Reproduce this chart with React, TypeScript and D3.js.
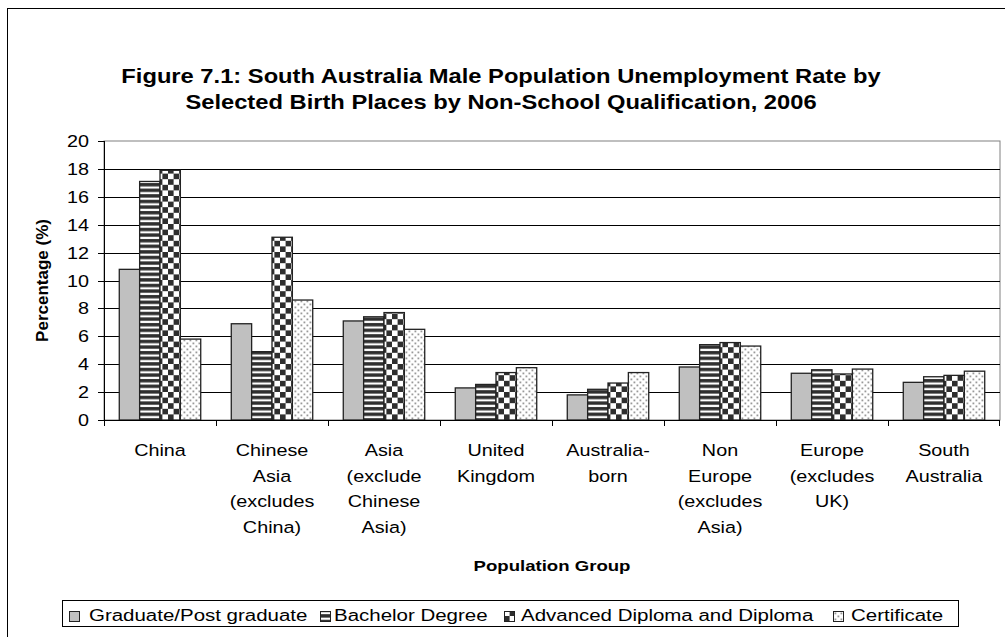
import React from "react";
import * as d3 from "d3";

const categories = [
  "China",
  "Chinese Asia (excludes China)",
  "Asia (exclude Chinese Asia)",
  "United Kingdom",
  "Australia-born",
  "Non Europe (excludes Asia)",
  "Europe (excludes UK)",
  "South Australia",
];
const categoryLines = [
  ["China"],
  ["Chinese", "Asia", "(excludes", "China)"],
  ["Asia", "(exclude", "Chinese", "Asia)"],
  ["United", "Kingdom"],
  ["Australia-", "born"],
  ["Non", "Europe", "(excludes", "Asia)"],
  ["Europe", "(excludes", "UK)"],
  ["South", "Australia"],
];
const seriesNames = [
  "Graduate/Post graduate",
  "Bachelor Degree",
  "Advanced Diploma and Diploma",
  "Certificate",
];
const graduate = [10.8, 6.9, 7.1, 2.3, 1.8, 3.8, 3.35, 2.7];
const bachelor = [17.1, 4.9, 7.4, 2.55, 2.2, 5.4, 3.6, 3.1];
const diploma = [17.9, 13.1, 7.7, 3.4, 2.65, 5.55, 3.3, 3.2];
const certificate = [5.8, 8.6, 6.5, 3.75, 3.4, 5.3, 3.65, 3.5];
const yTicks = [0, 2, 4, 6, 8, 10, 12, 14, 16, 18, 20];

const titleLines = [
  "Figure 7.1: South Australia Male Population Unemployment Rate by",
  "Selected Birth Places by Non-School Qualification, 2006",
];

const FONT = "'Liberation Sans', Arial, Helvetica, sans-serif";
const SX = 1.2;

export default function App() {
  const plotL = 104, plotR = 1000, plotT = 141, plotB = 420;
  const x = d3.scaleBand<string>().domain(categories).range([plotL, plotR]);
  const bw = x.bandwidth();
  const barW = bw / 5.5;
  const inner = d3
    .scaleBand<string>()
    .domain(seriesNames)
    .range([(bw - 4 * barW) / 2, (bw + 4 * barW) / 2]);
  const y = d3.scaleLinear().domain([0, 20]).range([plotB, plotT]);
  const series = [graduate, bachelor, diploma, certificate];
  const fills = ["#c0c0c0", "url(#pBach)", "url(#pDip)", "url(#pCert)"];

  const legendSq = [69, 320, 504, 833];
  const legendTx = [89, 334, 521, 851];

  return (
    <svg
      width={1005}
      height={637}
      style={{ position: "absolute", left: 0, top: 0, background: "#fff" }}
      fontFamily={FONT}
    >
      <defs>
        <pattern id="pBach" patternUnits="userSpaceOnUse" width={8} height={5.6}>
          <rect width={8} height={5.6} fill="#2e2e2e" />
          <rect y={1.6} width={8} height={2.2} fill="#fff" />
        </pattern>
        <pattern id="pDip" patternUnits="userSpaceOnUse" width={11.2} height={11.2}>
          <rect width={11.2} height={11.2} fill="#fff" />
          <rect x={0} y={0} width={5.6} height={5.6} fill="#2e2e2e" />
          <rect x={5.6} y={5.6} width={5.6} height={5.6} fill="#2e2e2e" />
        </pattern>
        <pattern id="pCert" patternUnits="userSpaceOnUse" width={6} height={6}>
          <rect width={6} height={6} fill="#fff" />
          <rect x={0.5} y={0.5} width={1.8} height={1.8} fill="#999" />
          <rect x={3.5} y={3.5} width={1.8} height={1.8} fill="#999" />
        </pattern>
      </defs>

      {/* chart border */}
      <rect x={7.5} y={8.5} width={1020} height={660} fill="#fff" stroke="#000" strokeWidth={1} />

      {/* title */}
      {titleLines.map((t, i) => (
        <text
          key={i}
          transform={`translate(501,${83 + i * 26}) scale(1.13,1)`}
          textAnchor="middle"
          fontWeight="bold"
          fontSize={21}
        >
          {t}
        </text>
      ))}

      {/* plot area */}
      <rect x={plotL} y={plotT} width={plotR - plotL} height={plotB - plotT} fill="#fff" stroke="#808080" />

      {/* gridlines */}
      {yTicks.filter((t) => t > 0 && t < 20).map((t) => (
        <line key={t} x1={plotL} x2={plotR} y1={Math.round(y(t)) + 0.5} y2={Math.round(y(t)) + 0.5} stroke="#000" strokeWidth={1} />
      ))}

      {/* bars */}
      {categories.map((c, ci) =>
        series.map((s, si) => (
          <rect
            key={c + si}
            x={(x(c) as number) + (inner(seriesNames[si]) as number)}
            y={y(s[ci])}
            width={barW}
            height={plotB - y(s[ci])}
            fill={fills[si]}
            stroke="#222"
            strokeWidth={1.3}
          />
        ))
      )}

      {/* y axis */}
      <line x1={plotL + 0.5} x2={plotL + 0.5} y1={plotT} y2={plotB} stroke="#000" />
      {yTicks.map((t) => (
        <g key={t}>
          <line x1={plotL - 6} x2={plotL} y1={Math.round(y(t)) + 0.5} y2={Math.round(y(t)) + 0.5} stroke="#000" />
          <text
            transform={`translate(89,${y(t) + 6}) scale(${SX},1)`}
            textAnchor="end"
            fontSize={16.5}
          >
            {t}
          </text>
        </g>
      ))}

      {/* x axis */}
      <line x1={plotL} x2={plotR} y1={plotB + 0.5} y2={plotB + 0.5} stroke="#000" />
      {categories.map((c) => (
        <line key={c} x1={(x(c) as number) + 0.5} x2={(x(c) as number) + 0.5} y1={plotB} y2={plotB + 6} stroke="#000" />
      ))}
      <line x1={plotR - 0.5} x2={plotR - 0.5} y1={plotB} y2={plotB + 6} stroke="#000" />
      {categories.map((c, ci) =>
        categoryLines[ci].map((ln, li) => (
          <text
            key={c + li}
            transform={`translate(${(x(c) as number) + bw / 2},${456 + li * 25.5}) scale(${SX},1)`}
            textAnchor="middle"
            fontSize={16.5}
          >
            {ln}
          </text>
        ))
      )}

      {/* axis titles */}
      <text
        transform={`translate(${(plotL + plotR) / 2},571) scale(${SX},1)`}
        textAnchor="middle"
        fontWeight="bold"
        fontSize={15.5}
      >
        Population Group
      </text>
      <text
        transform={`translate(48,${(plotT + plotB) / 2}) rotate(-90)`}
        textAnchor="middle"
        fontWeight="bold"
        fontSize={17}
      >
        Percentage (%)
      </text>

      {/* legend */}
      <rect x={62.5} y={600.5} width={896} height={26} fill="#fff" stroke="#000" />
      {seriesNames.map((n, i) => (
        <g key={n}>
          <rect x={legendSq[i] + 0.5} y={611.5} width={10} height={10} fill={fills[i]} stroke="#222" />
          <text
            transform={`translate(${legendTx[i]},621) scale(1.28,1)`}
            fontSize={16}
          >
            {n}
          </text>
        </g>
      ))}
    </svg>
  );
}
